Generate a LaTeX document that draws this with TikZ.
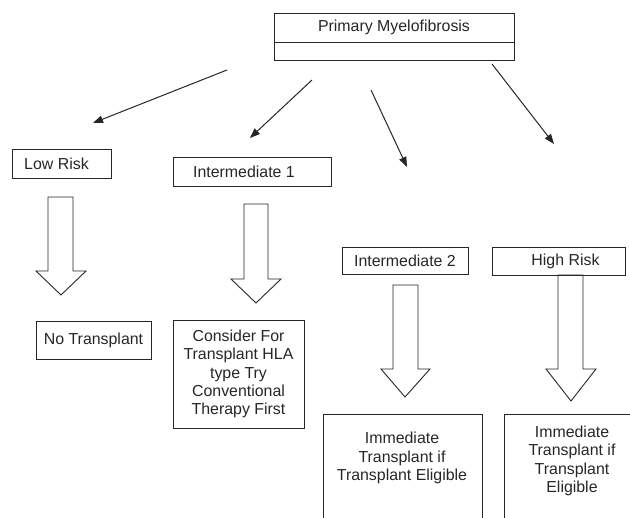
\documentclass[tikz,border=0pt]{standalone}
\usepackage{fontspec}
\setmainfont{Liberation Sans}
\usetikzlibrary{arrows.meta}
\begin{document}
\begin{tikzpicture}[x=1pt,y=-1pt,
  every node/.style={font=\fontsize{15.9}{18.4}\selectfont, text=black!85},
  box/.style={draw=black!85, line width=0.9pt, inner sep=0pt, align=center},
  conn/.style={draw=black!85, line width=1pt, -{Triangle[length=10pt,width=7.5pt]}},
  blockarrow/.style={draw=black!85, line width=0.9pt, line join=miter},
  openbox/.style={draw=black!85, line width=0.9pt}
]
\useasboundingbox (0,0) rectangle (630,518);

% top box
\node[box, minimum width=240pt, minimum height=29pt] (primary) at (394,27.5) {Primary Myelofibrosis};
\node[box, minimum width=240pt, minimum height=18pt] (primarylow) at (394,51) {};

% risk boxes
\node[box, minimum width=99pt, minimum height=29pt] (low) at (61.5,163.5) {\hspace*{-10pt}Low Risk};
\node[box, minimum width=158pt, minimum height=29pt] (int1) at (252,171.5) {\hspace*{-16pt}Intermediate 1};
\node[box, minimum width=126pt, minimum height=27pt] (int2) at (405,260.5) {Intermediate 2};
\node[box, minimum width=133pt, minimum height=28pt] (high) at (558.5,261) {\hspace*{14pt}High Risk};

% outcome boxes
\node[box, minimum width=115pt, minimum height=38pt] (notx) at (93.5,340) {No Transplant};
\node[box, minimum width=131pt, minimum height=108pt] (consider) at (238.5,374)
  {Consider For\\Transplant HLA\\type Try\\Conventional\\Therapy First};
\node[align=center, inner sep=0pt] (imm1) at (402,458) {Immediate\\Transplant if\\Transplant Eligible};
\node[align=center, inner sep=0pt] (imm2) at (572,461) {Immediate\\Transplant if\\Transplant\\Eligible};
\draw[openbox] (323,519) -- (323,414) -- (482,414) -- (482,519);
\draw[openbox] (504,519) -- (504,414) -- (631,414);

% thin arrows
\coordinate (s1) at (227,70);  \coordinate (e1) at (93,123);
\coordinate (s2) at (312,80);  \coordinate (e2) at (250,138);
\coordinate (s3) at (371,90);  \coordinate (e3) at (407,167);
\coordinate (s4) at (492,64);  \coordinate (e4) at (554,144);
\draw[conn] (s1) -- (e1);
\draw[conn] (s2) -- (e2);
\draw[conn] (s3) -- (e3);
\draw[conn] (s4) -- (e4);

% block arrows
\draw[blockarrow] (48,197) -- (73,197) -- (73,271) -- (86,271) -- (61,295) -- (36,271) -- (48,271) -- cycle;
\draw[blockarrow] (244,204) -- (268,204) -- (268,279) -- (281,279) -- (256,303) -- (231,279) -- (244,279) -- cycle;
\draw[blockarrow] (393,285) -- (418,285) -- (418,369) -- (430,369) -- (405,397) -- (381,369) -- (393,369) -- cycle;
\draw[blockarrow] (558,275) -- (583,275) -- (583,369) -- (596,369) -- (571,401) -- (546,369) -- (558,369) -- cycle;
\end{tikzpicture}
\end{document}
